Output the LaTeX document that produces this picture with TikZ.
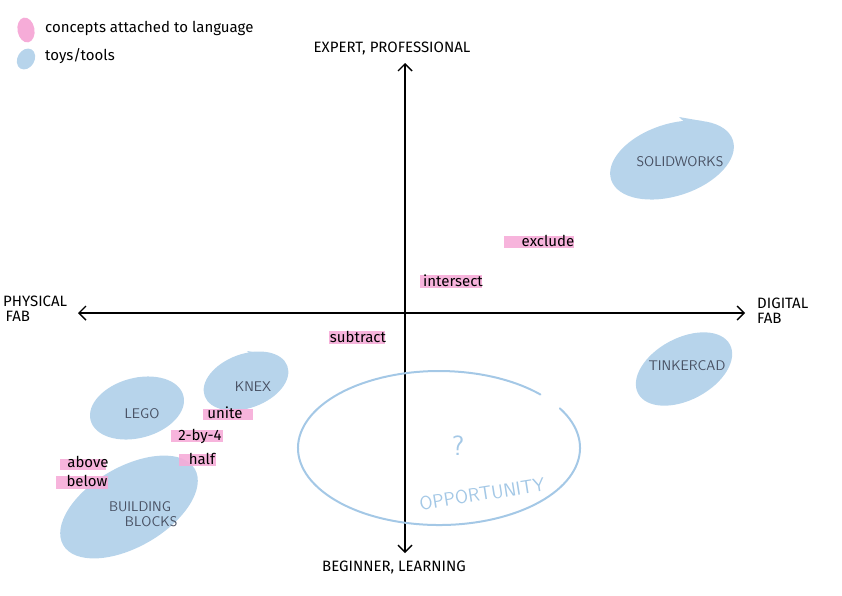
\documentclass[tikz,border=0pt]{standalone}
\usepackage{fontspec}
\setmainfont{Fira Sans}
\usetikzlibrary{shapes.geometric,arrows.meta,positioning,calc}
\definecolor{toyblue}{RGB}{183,212,235}
\definecolor{hlpink}{RGB}{246,172,216}
\definecolor{inkgray}{RGB}{72,80,98}
\definecolor{oppblue}{RGB}{164,200,230}
\pgfdeclarelayer{blobs}
\pgfdeclarelayer{marks}
\pgfsetlayers{blobs,marks,main}
\tikzset{
  toy/.style={ellipse, fill=toyblue, inner sep=0pt},
  toylbl/.style={font=\sffamily\fontsize{14}{16}\selectfont, text=inkgray, align=center},
  concept/.style={inner sep=0pt, font=\fontsize{15}{17}\selectfont},
  hl/.style={fill=hlpink, opacity=0.9},
  axlbl/.style={font=\fontsize{15}{15}\selectfont, align=left, inner sep=0pt}
}

\begin{document}
\begin{tikzpicture}[x=1pt, y=-1pt,
    axis/.style={{Straight Barb[length=7pt,width=14pt]}-{Straight Barb[length=7pt,width=14pt]}, line width=1.4pt, black},
    opparc/.style={draw=oppblue, line width=2pt, line cap=round}
  ]
  \useasboundingbox (0,0) rectangle (842,595);

  % legend
  \node[ellipse, fill=hlpink, inner sep=0pt, minimum width=17pt, minimum height=25pt, rotate=10] (keypink) at (26,30) {};
  \node[ellipse, fill=toyblue, inner sep=0pt, minimum width=17pt, minimum height=22pt, rotate=-30] (keyblue) at (26,59) {};
  \node[concept, anchor=west] (keyconcept) at (45,28) {concepts attached to language};
  \node[concept, anchor=west] (keytoy) at (45,56) {toys/tools};

  % axes
  \coordinate (top) at (405,63);
  \coordinate (bottom) at (405,553);
  \coordinate (left) at (78,313);
  \coordinate (right) at (745,313);
  \draw[axis] (bottom) -- (top);
  \draw[axis] (left) -- (right);
  \node[axlbl] (expert) at (392,48) {EXPERT, PROFESSIONAL};
  \node[axlbl] (beginner) at (394,567) {BEGINNER, LEARNING};
  \node[axlbl, anchor=north west] (physical) at (3,296) {PHYSICAL\\\,FAB};
  \node[axlbl, anchor=north west] (digital) at (757,298) {DIGITAL\\FAB};

  % toys and tools
  \begin{pgfonlayer}{blobs}
    \node[toy, minimum width=128pt, minimum height=72pt, rotate=18] (solid) at (672,160) {};
    \fill[toyblue] ($(solid)+(7,-43)$) -- ($(solid)+(30,-39)$) -- ($(solid)+(20,-31)$) -- cycle;
    \node[toy, minimum width=104pt, minimum height=62pt, rotate=28] (tinker) at (684,369) {};
    \fill[toyblue] ($(tinker)+(23,-36)$) -- ($(tinker)+(40,-30)$) -- ($(tinker)+(30,-26)$) -- cycle;
    \node[toy, minimum width=88pt, minimum height=54pt, rotate=20] (knex) at (246,381) {};
    \fill[toyblue] ($(knex)+(1,-30)$) -- ($(knex)+(22,-27)$) -- ($(knex)+(10,-22)$) -- cycle;
    \node[toy, minimum width=96pt, minimum height=60pt, rotate=15] (lego) at (137,408) {};
    \fill[toyblue] ($(lego)+(0,-31)$) -- ($(lego)+(20,-28)$) -- ($(lego)+(8,-24)$) -- cycle;
    \node[toy, minimum width=152pt, minimum height=80pt, rotate=30] (blocks) at (129,507) {};
    \fill[toyblue] ($(blocks)+(36,-50)$) -- ($(blocks)+(55,-44)$) -- ($(blocks)+(42,-38)$) -- cycle;
  \end{pgfonlayer}
  \node[toylbl] (solidlbl) at (680,162) {SOLIDWORKS};
  \node[toylbl] (tinkerlbl) at (687,366) {TINKERCAD};
  \node[toylbl] (knexlbl) at (253,387) {KNEX};
  \node[toylbl] (legolbl) at (142,414) {LEGO};
  \node[toylbl] (blockslbl) at (140,514) {BUILDING\\[-1pt]\hspace{1.6em}BLOCKS};

  % opportunity
  \coordinate (opp) at (439,448);
  \draw[opparc] ($(opp)+(-31:141 and 77)$) arc[start angle=-31, end angle=316, x radius=141, y radius=77];
  \node[text=oppblue, font=\sffamily\fontsize{28}{30}\selectfont] (question) at (458,446) {?};
  \node[text=oppblue, font=\sffamily\fontsize{19}{21}\selectfont, rotate=9] (opplbl) at (482,494) {OPPORTUNITY};

  % concepts
  \node[concept] (exclude) at (548,241) {exclude};
  \node[concept] (intersect) at (453,281) {intersect};
  \node[concept] (subtract) at (358,337) {subtract};
  \node[concept] (unite) at (225,413) {unite};
  \node[concept] (twobyfour) at (200,436) {2-by-4};
  \node[concept] (half) at (202,459) {half};
  \node[concept] (above) at (88,462) {above};
  \node[concept] (below) at (87,481) {below};
  \begin{pgfonlayer}{marks}
    \fill[hl] ($(exclude.west)+(-17,-5)$) rectangle ($(exclude.east)+(-1,7)$);
    \fill[hl] ($(intersect.west)+(-3,-6)$) rectangle ($(intersect.east)+(-1,7)$);
    \fill[hl] ($(subtract.west)+(-1,-6)$) rectangle ($(subtract.east)+(-1,7)$);
    \fill[hl] ($(unite.west)+(-4,-4)$) rectangle ($(unite.east)+(10,7)$);
    \fill[hl] ($(twobyfour.west)+(-7,-6)$) rectangle ($(twobyfour.east)+(1,6)$);
    \fill[hl] ($(half.west)+(-10,-5)$) rectangle ($(half.east)+(1,7)$);
    \fill[hl] ($(above.west)+(-7,-3)$) rectangle ($(above.east)+(-3,8)$);
    \fill[hl] ($(below.west)+(-10,-5)$) rectangle ($(below.east)+(0,8)$);
  \end{pgfonlayer}
\end{tikzpicture}
\end{document}
